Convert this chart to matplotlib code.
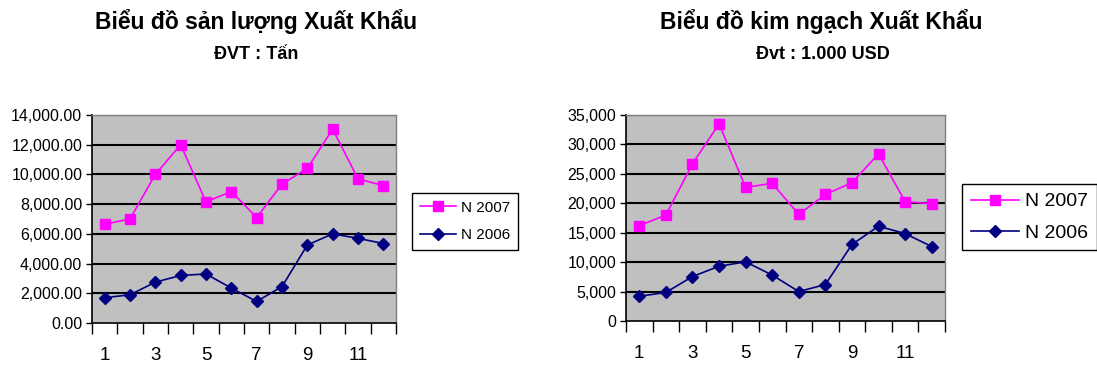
import numpy as np
import matplotlib.pyplot as plt
from matplotlib.ticker import FuncFormatter

plt.rcParams['font.family'] = ['Liberation Sans', 'DejaVu Sans']

months = np.arange(1, 13)
month_labels = ['1', '3', '5', '7', '9', '11']

# san luong (tan)
sl_2007 = [6650, 7000, 10000, 12000, 8150, 8850, 7100, 9350, 10400, 13050, 9700, 9250]
sl_2006 = [1700, 1900, 2750, 3200, 3300, 2350, 1450, 2450, 5250, 6000, 5700, 5350]

# kim ngach (1.000 USD)
kn_2007 = [16200, 18000, 26700, 33500, 22700, 23400, 18100, 21500, 23500, 28400, 20300, 19900]
kn_2006 = [4200, 4850, 7550, 9300, 10050, 7800, 5000, 6200, 13000, 16100, 14850, 12650]

W, H = 1097, 366
fig = plt.figure(figsize=(W / 100, H / 100), dpi=100)


def px_axes(x0, y0, x1, y1):
    return fig.add_axes([x0 / W, 1 - y1 / H, (x1 - x0) / W, (y1 - y0) / H])


def style_axes(ax, ymax, step, fmt):
    ax.set_facecolor('#C0C0C0')
    ax.set_xlim(0.5, 12.5)
    ax.set_ylim(0, ymax)
    yt = np.arange(0, ymax + 1, step)
    ax.set_yticks(yt)
    ax.yaxis.set_major_formatter(FuncFormatter(fmt))
    for y in yt[1:]:
        ax.axhline(y, color='black', lw=1.5, zorder=1)
    ax.set_xticks([1, 3, 5, 7, 9, 11])
    ax.set_xticklabels(month_labels)
    ax.set_xticks(np.arange(0.5, 13, 1), minor=True)
    ax.tick_params(axis='x', which='major', length=0, pad=17, labelsize=13.5)
    ax.tick_params(axis='x', which='minor', length=8, width=1, direction='out')
    ax.tick_params(axis='y', length=4, width=1, direction='out', pad=3, labelsize=11.5)
    for s in ['top', 'right']:
        ax.spines[s].set_color('#808080')
        ax.spines[s].set_linewidth(1)
    for s in ['left', 'bottom']:
        ax.spines[s].set_color('black')
        ax.spines[s].set_linewidth(1.2)


def draw_series(ax, s07, s06):
    l1, = ax.plot(months, s07, color='#FF00FF', lw=1.2, marker='s', ms=7,
                  label='N 2007', zorder=3)
    l2, = ax.plot(months, s06, color='#000080', lw=1.2, marker='D', ms=6,
                  label='N 2006', zorder=3)
    return l1, l2


ax1 = px_axes(92, 115, 396, 323)
style_axes(ax1, 14000, 2000, lambda v, p: f'{v:,.2f}')
h1 = draw_series(ax1, sl_2007, sl_2006)
leg1 = fig.legend(h1, ['N 2007', 'N 2006'], loc='upper left',
                  bbox_to_anchor=(412 / W, 1 - 193 / H), fontsize=11,
                  fancybox=False, edgecolor='black', framealpha=1,
                  borderpad=0.5, labelspacing=0.9, handlelength=2.4,
                  handletextpad=0.3, borderaxespad=0)
leg1.get_frame().set_linewidth(1)

ax2 = px_axes(626, 115, 945, 321)
style_axes(ax2, 35000, 5000, lambda v, p: f'{v:,.0f}')
h2 = draw_series(ax2, kn_2007, kn_2006)
leg2 = fig.legend(h2, ['N 2007', 'N 2006'], loc='upper left',
                  bbox_to_anchor=(962 / W, 1 - 184 / H), fontsize=14,
                  fancybox=False, edgecolor='black', framealpha=1,
                  borderpad=0.45, labelspacing=0.7, handlelength=2.5,
                  handletextpad=0.3, borderaxespad=0)
leg2.get_frame().set_linewidth(1)

fig.text(256 / W, 1 - 29 / H, 'Biểu đồ sản lượng Xuất Khẩu', ha='center',
         va='baseline', fontsize=16.5, fontweight='bold')
fig.text(256 / W, 1 - 59 / H, 'ĐVT : Tấn', ha='center', va='baseline',
         fontsize=13, fontweight='bold')
fig.text(821 / W, 1 - 29 / H, 'Biểu đồ kim ngạch Xuất Khẩu', ha='center',
         va='baseline', fontsize=16.5, fontweight='bold')
fig.text(823 / W, 1 - 59 / H, 'Đvt : 1.000 USD', ha='center', va='baseline',
         fontsize=13, fontweight='bold')

fig.savefig('out.png', dpi=100)
